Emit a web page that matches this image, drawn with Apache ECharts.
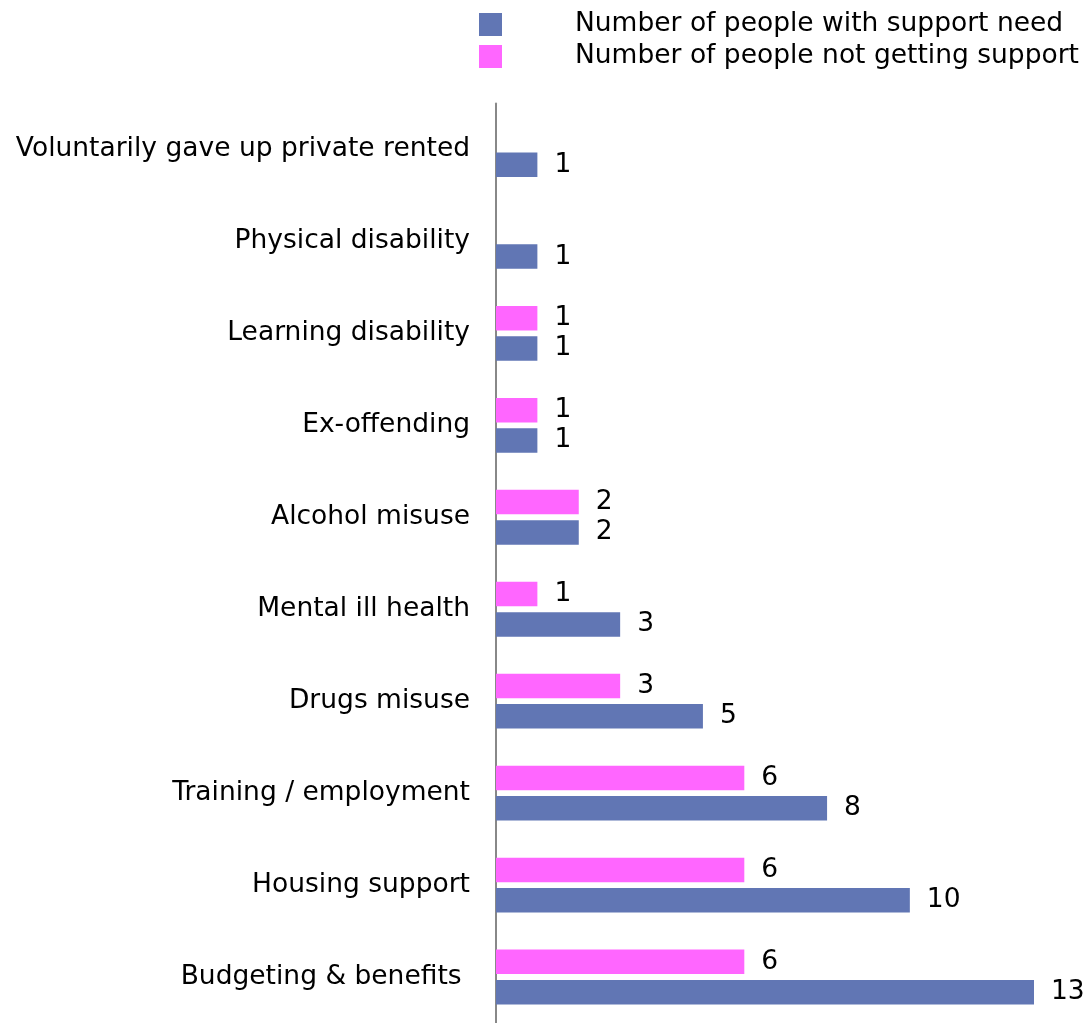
<!DOCTYPE html>
<html>
<head>
<meta charset="utf-8">
<script src="https://cdn.jsdelivr.net/npm/echarts@6/dist/echarts.min.js"></script>
<style>html,body{margin:0;padding:0;background:#fff}#c{width:1086px;height:1023px}</style>
</head>
<body>
<div id="c"></div>
<script>
// categories bottom -> top
const categories = ["Budgeting & benefits ", "Housing support", "Training / employment", "Drugs misuse", "Mental ill health", "Alcohol misuse", "Ex-offending", "Learning disability", "Physical disability", "Voluntarily gave up private rented"];
const supportNeed = [13, 10, 8, 5, 3, 2, 1, 1, 1, 1];
const notGettingSupport = [6, 6, 6, 3, 1, 2, 1, 1, null, null];
const seriesNames = ["Number of people with support need", "Number of people not getting support"];

const font = "DejaVu Sans";
const fs = 26.5;
const lbl = { show: true, position: 'right', distance: 17, fontFamily: font, fontSize: fs, color: '#000' };
const chart = echarts.init(document.getElementById('c'));
chart.setOption({
  animation: false,
  textStyle: { fontFamily: font },
  legend: {
    orient: 'vertical', left: 474, top: 6,
    itemWidth: 23, itemHeight: 23, itemGap: 5,
    icon: 'rect',
    textStyle: { fontFamily: font, fontSize: fs, color: '#000', padding: [5, 0, 0, 68] },
    data: seriesNames
  },
  grid: { left: 496, right: 52, top: 103.5, bottom: -4.5, containLabel: false },
  xAxis: { type: 'value', min: 0, max: 13, show: false },
  yAxis: {
    type: 'category', data: categories,
    axisLine: { show: true, lineStyle: { color: '#888888', width: 2 } },
    axisTick: { show: false },
    axisLabel: { fontFamily: font, fontSize: fs, color: '#000', margin: 26, padding: [6, 0, 0, 0] }
  },
  series: [
    {
      name: seriesNames[1], type: 'bar', data: notGettingSupport,
      itemStyle: { color: '#FF66FF' },
      barWidth: 24.5, barGap: '24%', barCategoryGap: '42%',
      label: lbl
    },
    {
      name: seriesNames[0], type: 'bar', data: supportNeed,
      itemStyle: { color: '#6176B4' },
      barWidth: 24.5, barGap: '24%', barCategoryGap: '42%',
      label: lbl
    }
  ]
});
</script>
</body>
</html>
